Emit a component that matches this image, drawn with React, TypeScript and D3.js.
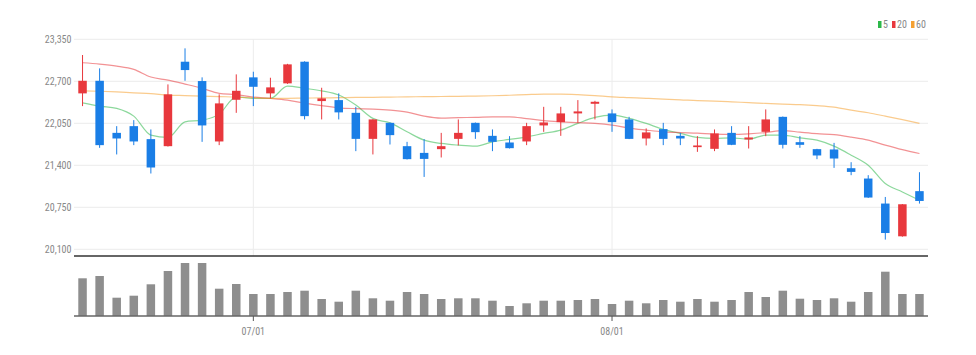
import React from "react";
import * as d3 from "d3";

const dates: string[] = [
  "2023-06-19","2023-06-20","2023-06-21","2023-06-22","2023-06-23","2023-06-26","2023-06-27","2023-06-28","2023-06-29","2023-06-30",
  "2023-07-03","2023-07-04","2023-07-05","2023-07-06","2023-07-07","2023-07-10","2023-07-11","2023-07-12","2023-07-13","2023-07-14",
  "2023-07-17","2023-07-18","2023-07-19","2023-07-20","2023-07-21","2023-07-24","2023-07-25","2023-07-26","2023-07-27","2023-07-28",
  "2023-07-31","2023-08-01","2023-08-02","2023-08-03","2023-08-04","2023-08-07","2023-08-08","2023-08-09","2023-08-10","2023-08-11",
  "2023-08-14","2023-08-16","2023-08-17","2023-08-18","2023-08-21","2023-08-22","2023-08-23","2023-08-24","2023-08-25","2023-08-28",
];

const opens: number[] = [
  22513, 22708, 21902, 22006, 21805, 21696, 23003, 22704, 21769, 22414,
  22761, 22513, 22668, 23003, 22394, 22409, 22212, 21809, 22057, 21696,
  21592, 21650, 21809, 22057, 21856, 21753, 21769, 22017, 22068, 22203,
  22352, 22203, 22110, 21815, 21960, 21856, 21681, 21655, 21902, 21800,
  21918, 22150, 21758, 21650, 21645, 21355, 21195, 20808, 20301, 21000,
];
const highs: number[] = [
  23107, 22900, 22006, 22099, 21955, 22652, 23210, 22761, 22498, 22807,
  22848, 22755, 22970, 23010, 22600, 22513, 22305, 22115, 22062, 21763,
  21805, 21902, 22110, 22062, 21955, 21851, 22057, 22305, 22305, 22409,
  22398, 22265, 22150, 21971, 22057, 21902, 21851, 21955, 22006, 22006,
  22265, 22155, 21851, 21655, 21747, 21448, 21247, 20910, 20800, 21293,
];
const lows: number[] = [
  22316, 21670, 21568, 21712, 21273, 21690, 22708, 21763, 21712, 22212,
  22316, 22436, 22660, 22110, 22110, 22110, 21619, 21568, 21722, 21490,
  21220, 21521, 21707, 21809, 21619, 21660, 21712, 21918, 21856, 22057,
  22110, 21918, 21805, 21707, 21712, 21712, 21608, 21619, 21712, 21660,
  21851, 21660, 21670, 21495, 21360, 21247, 20895, 20250, 20295, 20808,
];
const closes: number[] = [
  22708, 21712, 21815, 21769, 21366, 22498, 22874, 22017, 22358, 22553,
  22615, 22606, 22962, 22161, 22436, 22219, 21809, 22110, 21867, 21495,
  21499, 21696, 21902, 21913, 21763, 21665, 22006, 22063, 22203, 22234,
  22383, 22068, 21809, 21909, 21809, 21815, 21707, 21893, 21717, 21831,
  22110, 21717, 21717, 21552, 21505, 21298, 20901, 20352, 20797, 20848,
];
const volumes: number[] = [
  377000, 400000, 183000, 203000, 317000, 450000, 530000, 530000, 273000, 320000,
  220000, 220000, 240000, 253000, 170000, 143000, 253000, 177000, 153000, 240000,
  220000, 170000, 177000, 177000, 153000, 100000, 127000, 153000, 153000, 160000,
  170000, 120000, 153000, 127000, 160000, 143000, 170000, 143000, 160000, 240000,
  190000, 253000, 173000, 160000, 177000, 143000, 240000, 443000, 220000, 220000,
];
const ma5: number[] = [
  22367, 22316, 22280, 22161, 21867, 21831, 22073, 22099, 22192, 22460,
  22436, 22436, 22626, 22591, 22553, 22487, 22332, 22126, 22057, 21918,
  21789, 21738, 21712, 21696, 21763, 21800, 21840, 21893, 21944, 22048,
  22141, 22177, 22126, 22048, 21955, 21893, 21831, 21816, 21825, 21805,
  21867, 21867, 21825, 21789, 21696, 21557, 21402, 21118, 20988, 20860,
];
const ma20: number[] = [
  22987, 22967, 22936, 22885, 22766, 22719, 22657, 22591, 22513, 22494,
  22456, 22436, 22409, 22363, 22324, 22290, 22277, 22270, 22254, 22223,
  22161, 22130, 22138, 22141, 22150, 22150, 22122, 22091, 22073, 22060,
  22048, 22022, 21976, 21945, 21918, 21906, 21898, 21882, 21878, 21887,
  21906, 21937, 21913, 21890, 21874, 21836, 21789, 21712, 21642, 21583,
];
const ma60: number[] = [
  22553, 22546, 22536, 22522, 22510, 22487, 22479, 22471, 22463, 22456,
  22443, 22436, 22436, 22440, 22443, 22446, 22450, 22451, 22456, 22459,
  22462, 22465, 22468, 22471, 22476, 22484, 22494, 22502, 22502, 22494,
  22479, 22460, 22448, 22436, 22425, 22414, 22401, 22394, 22383, 22370,
  22358, 22347, 22339, 22324, 22301, 22254, 22213, 22161, 22107, 22048,
];

const yTicks: number[] = [20100, 20750, 21400, 22050, 22700, 23350];
const xTickDates: string[] = ["2023-07-03", "2023-08-01"];
const xTickLabels: string[] = ["07/01", "08/01"];
const legendLabels: string[] = ["5", "20", "60"];

const UP = "#e8383d";
const DOWN = "#1a7ee6";
const MA_COLORS = ["#2db84a", "#e8383d", "#f5a030"];
const FONT = "'Liberation Sans Narrow', 'Roboto Condensed', 'Liberation Sans', Arial, sans-serif";

export default function App() {
  const left = 74, right = 928;
  const x = d3.scaleBand<string>().domain(dates).range([left, right]).padding(0);
  const bw = x.bandwidth();
  const cx = (d: string) => (x(d) as number) + bw / 2;
  const y = d3.scaleLinear().domain([20100, 23350]).range([249.3, 39.3]);
  const vy = d3.scaleLinear().domain([0, 600000]).range([316, 256]);
  const bodyW = 8.5;
  const barW = 8.5;

  const maSeries = [ma5, ma20, ma60];
  const line = d3
    .line<number>()
    .x((_, i) => cx(dates[i]))
    .y((v) => y(v))
    .curve(d3.curveMonotoneX);

  const legendX = [878, 892, 911];

  return (
    <svg
      width={976}
      height={355}
      style={{ position: "absolute", left: 0, top: 0, background: "#fff" }}
      fontFamily={FONT}
    >
      {/* horizontal grid */}
      {yTicks.map((t) => (
        <g key={t}>
          <line x1={left} x2={right} y1={y(t)} y2={y(t)} stroke="#ececec" strokeWidth={1} />
          <text x={71.5} y={y(t)} dy="0.35em" textAnchor="end" fontSize={10} fill="#888">
            {d3.format(",")(t)}
          </text>
        </g>
      ))}
      {/* vertical grid */}
      {xTickDates.map((d) => (
        <line key={d} x1={cx(d)} x2={cx(d)} y1={y(23350)} y2={256} stroke="#ececec" strokeWidth={1} />
      ))}

      {/* MA lines */}
      {maSeries.map((s, k) => (
        <path key={k} d={line(s) || ""} fill="none" stroke={MA_COLORS[k]} strokeOpacity={0.55} strokeWidth={1.2} />
      ))}

      {/* candles */}
      {dates.map((d, i) => {
        const o = opens[i], c = closes[i], h = highs[i], l = lows[i];
        const col = c >= o ? UP : DOWN;
        const top = y(Math.max(o, c));
        const bot = y(Math.min(o, c));
        return (
          <g key={d}>
            <line x1={cx(d)} x2={cx(d)} y1={y(h)} y2={y(l)} stroke={col} strokeWidth={1} />
            <rect x={cx(d) - bodyW / 2} y={top} width={bodyW} height={Math.max(1.5, bot - top)} fill={col} />
          </g>
        );
      })}

      {/* axis separator */}
      <line x1={left} x2={right} y1={256} y2={256} stroke="#333" strokeWidth={1.5} />

      {/* volume */}
      {dates.map((d, i) => (
        <rect
          key={d}
          x={cx(d) - barW / 2}
          y={vy(volumes[i])}
          width={barW}
          height={vy(0) - vy(volumes[i])}
          fill="#8e8e8e"
        />
      ))}
      <line x1={left} x2={right} y1={316} y2={316} stroke="#666" strokeWidth={1.5} />
      {xTickDates.map((d, k) => (
        <g key={d}>
          <line x1={cx(d)} x2={cx(d)} y1={316} y2={321} stroke="#555" strokeWidth={1} />
          <text x={cx(d)} y={335} textAnchor="middle" fontSize={10} fill="#888">
            {xTickLabels[k]}
          </text>
        </g>
      ))}

      {/* legend */}
      {legendLabels.map((lab, k) => (
        <g key={lab}>
          <rect x={legendX[k]} y={21} width={3.5} height={7} fill={MA_COLORS[k]} />
          <text x={legendX[k] + 5} y={28} fontSize={10} fill="#888">
            {lab}
          </text>
        </g>
      ))}
    </svg>
  );
}
